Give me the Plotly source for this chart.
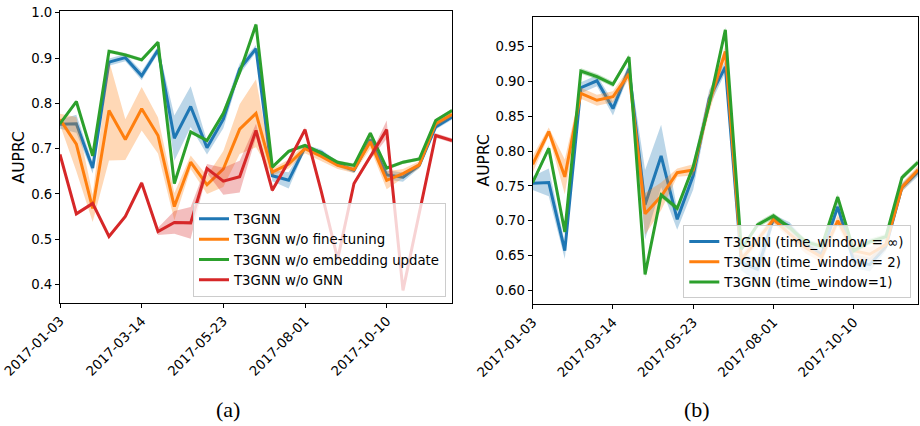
import datetime as dt
import plotly.graph_objects as go

# ---------------- data ----------------
start = dt.date(2017, 1, 3)
dates = [(start + dt.timedelta(days=14 * i)).isoformat() for i in range(25)]
tick_labels = ["2017-01-03", "2017-03-14", "2017-05-23", "2017-08-01", "2017-10-10"]

t3gnn = [0.754, 0.755, 0.657, 0.891, 0.901, 0.861, 0.918, 0.723, 0.793, 0.702, 0.765, 0.876, 0.921,
         0.640, 0.630, 0.703, 0.692, 0.666, 0.652, 0.720, 0.642, 0.637, 0.663, 0.748, 0.770]
t3gnn_err = [0.010, 0.020, 0.012, 0.008, 0.008, 0.010, 0.008, 0.050, 0.045, 0.015, 0.020, 0.012, 0.008,
             0.012, 0.018, 0.006, 0.006, 0.006, 0.006, 0.008, 0.010, 0.010, 0.006, 0.006, 0.006]

no_ft = [0.765, 0.710, 0.568, 0.784, 0.720, 0.788, 0.729, 0.572, 0.670, 0.620, 0.655, 0.743, 0.778,
         0.648, 0.666, 0.700, 0.683, 0.663, 0.654, 0.715, 0.630, 0.645, 0.664, 0.755, 0.776]
no_ft_err = [0.012, 0.060, 0.030, 0.110, 0.045, 0.048, 0.040, 0.030, 0.015, 0.020, 0.040, 0.055, 0.075,
             0.008, 0.010, 0.010, 0.010, 0.008, 0.008, 0.015, 0.020, 0.010, 0.008, 0.006, 0.006]

no_emb = [0.755, 0.804, 0.684, 0.915, 0.907, 0.896, 0.935, 0.623, 0.737, 0.718, 0.778, 0.868, 0.974,
          0.659, 0.694, 0.707, 0.690, 0.670, 0.663, 0.734, 0.657, 0.670, 0.677, 0.762, 0.784]
no_emb_err = [0.004] * 25

no_gnn = [0.687, 0.556, 0.579, 0.506, 0.550, 0.624, 0.517, 0.537, 0.536, 0.656, 0.628, 0.638, 0.740,
          0.608, 0.672, 0.742, 0.605, 0.456, 0.623, 0.681, 0.742, 0.387, 0.558, 0.729, 0.718]
no_gnn_err = [0.005, 0.004, 0.004, 0.004, 0.004, 0.004, 0.008, 0.025, 0.035, 0.010, 0.030, 0.035, 0.015,
              0.005, 0.005, 0.005, 0.005, 0.005, 0.005, 0.005, 0.020, 0.005, 0.005, 0.005, 0.005]

tw2 = [0.781, 0.828, 0.763, 0.883, 0.873, 0.878, 0.911, 0.710, 0.735, 0.769, 0.773, 0.870, 0.943,
       0.645, 0.672, 0.702, 0.681, 0.661, 0.648, 0.700, 0.657, 0.652, 0.666, 0.748, 0.773]
tw2_err = [0.012, 0.006, 0.025, 0.008, 0.008, 0.008, 0.008, 0.030, 0.020, 0.006, 0.008, 0.015, 0.008,
           0.006, 0.006, 0.006, 0.006, 0.008, 0.008, 0.008, 0.010, 0.010, 0.008, 0.006, 0.006]

panel_a = [
    ("T3GNN", t3gnn, t3gnn_err, (31, 119, 180)),
    ("T3GNN w/o fine-tuning", no_ft, no_ft_err, (255, 127, 14)),
    ("T3GNN w/o embedding update", no_emb, no_emb_err, (44, 160, 44)),
    ("T3GNN w/o GNN", no_gnn, no_gnn_err, (214, 39, 40)),
]
panel_b = [
    ("T3GNN (time_window = ∞)", t3gnn, t3gnn_err, (31, 119, 180)),
    ("T3GNN (time_window = 2)", tw2, tw2_err, (255, 127, 14)),
    ("T3GNN (time_window=1)", no_emb, no_emb_err, (44, 160, 44)),
]

# ---------------- figure ----------------
W, H = 920, 426


def px(x):
    return x / W


def py(y):
    return 1 - y / H


fig = go.Figure()


def add_panel(series, xa, ya, legend):
    for name, vals, err, c in series:
        hi = [v + e for v, e in zip(vals, err)]
        lo = [v - e for v, e in zip(vals, err)]
        fig.add_trace(go.Scatter(
            x=dates + dates[::-1], y=hi + lo[::-1], fill="toself", mode="lines",
            line=dict(width=0), fillcolor="rgba(%d,%d,%d,0.3)" % c,
            hoverinfo="skip", showlegend=False, xaxis=xa, yaxis=ya))
        fig.add_trace(go.Scatter(
            x=dates, y=vals, mode="lines", name=name,
            line=dict(color="rgb(%d,%d,%d)" % c, width=3),
            xaxis=xa, yaxis=ya, legend=legend))


add_panel(panel_a, "x", "y", "legend")
add_panel(panel_b, "x2", "y2", "legend2")

tickfont = dict(family="DejaVu Sans", size=13.3, color="black")
axis_common = dict(showline=True, mirror=True, linecolor="black", linewidth=1,
                   ticks="outside", ticklen=4, tickwidth=1, tickcolor="black",
                   showgrid=False, zeroline=False, tickfont=tickfont, automargin=False,
                   ticklabeloverflow="allow")

xcommon = dict(axis_common, type="date", range=[dates[0], dates[-1]],
               tickvals=tick_labels, ticktext=tick_labels, tickangle=-45)

legfont = dict(family="DejaVu Sans", size=13.3, color="black")
fig.update_layout(
    width=W, height=H,
    margin=dict(l=0, r=0, t=0, b=0),
    plot_bgcolor="white", paper_bgcolor="white",
    xaxis=dict(xcommon, domain=[px(60), px(452)], anchor="y"),
    yaxis=dict(axis_common, domain=[py(303), py(11)], range=[0.359, 1.004],
               tickvals=[0.4, 0.5, 0.6, 0.7, 0.8, 0.9, 1.0], tickformat=".1f", anchor="x"),
    xaxis2=dict(xcommon, domain=[px(532.7), px(918)], anchor="y2"),
    yaxis2=dict(axis_common, domain=[py(304.3), py(16.7)], range=[0.58, 0.993],
                tickvals=[0.60, 0.65, 0.70, 0.75, 0.80, 0.85, 0.90, 0.95], tickformat=".2f", anchor="x2"),
    legend=dict(x=px(446), y=py(296.7), xanchor="right", yanchor="bottom",
                bgcolor="rgba(255,255,255,0.8)", bordercolor="#cccccc", borderwidth=1, font=legfont),
    legend2=dict(x=px(911.3), y=py(298.3), xanchor="right", yanchor="bottom",
                 bgcolor="rgba(255,255,255,0.8)", bordercolor="#cccccc", borderwidth=1, font=legfont),
    showlegend=True,
    modebar=dict(bgcolor="rgba(0,0,0,0)", color="rgba(0,0,0,0)", activecolor="rgba(0,0,0,0)"),
)

ann_font = dict(family="DejaVu Sans", size=15.6, color="black")
for xx, yy in [(18.5, 157), (483, 160.5)]:
    fig.add_annotation(text="AUPRC", x=px(xx), y=py(yy), xref="paper", yref="paper",
                       xanchor="center", yanchor="middle",
                       textangle=-90, showarrow=False, font=ann_font)
lab_font = dict(family="Liberation Serif", size=22, color="black")
for txt, xx in [("(a)", 228), ("(b)", 697)]:
    fig.add_annotation(text=txt, x=px(xx), y=py(409), xref="paper", yref="paper",
                       xanchor="center", yanchor="middle", showarrow=False, font=lab_font)

# remove the default 8px page margin so the figure sits at the window origin
fig.write_html("out.html", post_script="document.body.style.margin='0';",
               config={"displayModeBar": False})
